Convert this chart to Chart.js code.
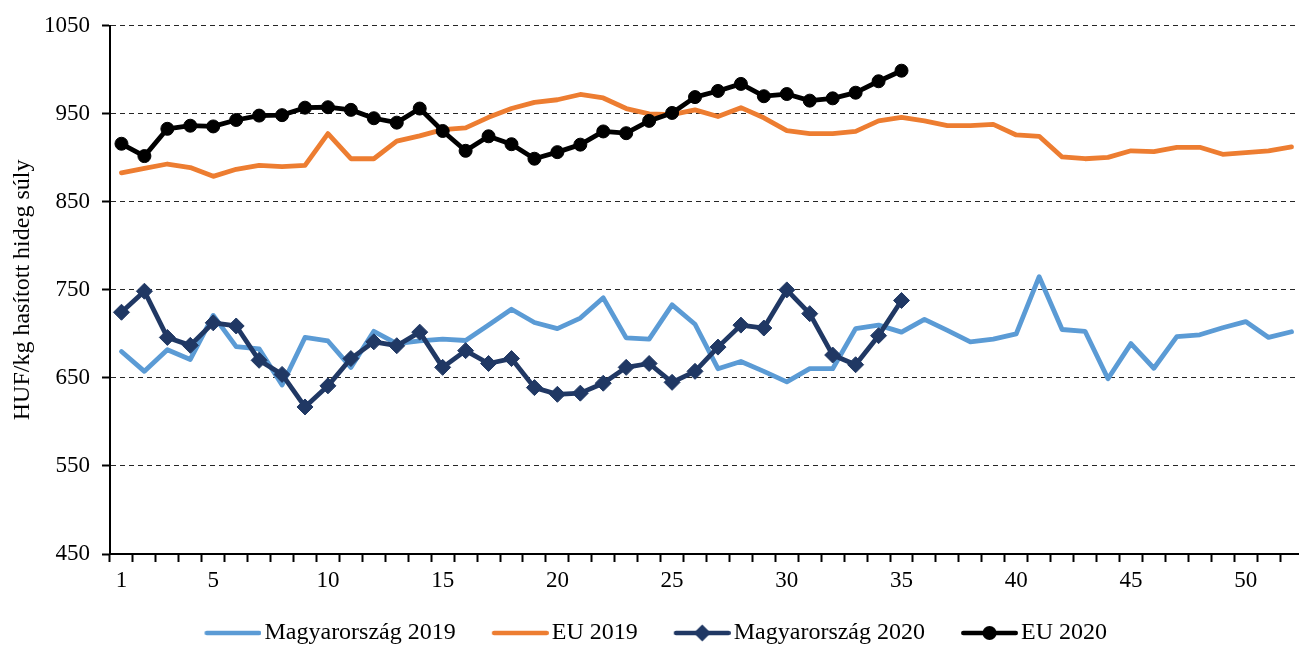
<!DOCTYPE html>
<html><head><meta charset="utf-8">
<script src="https://cdn.jsdelivr.net/npm/chart.js@4.4.1/dist/chart.umd.min.js"></script>
<style>
html,body{margin:0;padding:0;background:#fff;overflow:hidden;width:1299px;height:647px;position:relative}
#wrap{position:absolute;left:-10px;top:0;width:1322px;height:660px}
</style></head>
<body><div id="wrap"><canvas id="c" width="1322" height="660"></canvas></div>
<script>
const weeks = ['1','2','3','4','5','6','7','8','9','10','11','12','13','14','15','16','17','18','19','20','21','22','23','24','25','26','27','28','29','30','31','32','33','34','35','36','37','38','39','40','41','42','43','44','45','46','47','48','49','50','51','52'];
const shownWeeks = ['1','5','10','15','20','25','30','35','40','45','50'];

const hu2019 = [680,657.5,682,671,721,685.5,683,642,696,692,662,703,689,692,694,692.5,710,728,713,706,718,741,695.5,694,733,711,660.5,668.7,657.5,645.5,660.5,660.5,706,710,702,716.5,704,691,694,700,765,705,703,649,689,661,697,699,707,714,696,702.5];
const eu2019 = [883,888,893,889,879,887,891.5,890,891.5,927.5,899,899,919,925,932,934,946,956,963,966,972,968,956,950,949,954.5,947,957,945.5,931,927.5,927.5,930,942,946,942,936.5,936.5,938,926,924.5,901,899,900.6,908,907,912,912,904,906,908,912.5];
const hu2020 = [724.6,748.5,696,687,712.6,709,670,654,617,641,672,691,686.6,702,662,681,666.4,672,639,631.4,632.7,644,662,666.4,645,657.5,685,710,706.7,750,723,676,665,698,738];
const eu2020 = [916,902,933,936.5,935.7,943,948,948.5,957,957.5,954.5,945,940,956,930.5,908,924.5,915.5,899,906.5,915,930,928,942,951,969,976,984,970,972.5,965,967.6,974,987,999];

const seriesNames = ['Magyarország 2019','EU 2019','Magyarország 2020','EU 2020'];
const yTitle = 'HUF/kg hasított hideg súly';

const FONT = "'Times New Roman', 'Liberation Serif', serif";
const C_HU19 = '#5B9BD5', C_EU19 = '#ED7D31', C_HU20 = '#203864', C_EU20 = '#000000';

function legendImg(color, style) {
  const c = document.createElement('canvas');
  c.width = 76; c.height = 24;
  const g = c.getContext('2d');
  g.strokeStyle = color; g.lineWidth = 4.5; g.lineCap = 'round';
  g.beginPath(); g.moveTo(21.25, 12); g.lineTo(73.75, 12); g.stroke();
  g.fillStyle = color;
  const cx = 47.5;
  if (style === 'rectRot') {
    g.beginPath(); g.moveTo(cx - 8.5, 12); g.lineTo(cx, 3.5); g.lineTo(cx + 8.5, 12); g.lineTo(cx, 20.5); g.closePath(); g.fill();
  } else if (style === 'circle') {
    g.beginPath(); g.arc(cx, 12, 7, 0, Math.PI * 2); g.fill();
  }
  return c;
}
const legendImgs = [legendImg(C_HU19), legendImg(C_EU19), legendImg(C_HU20, 'rectRot'), legendImg(C_EU20, 'circle')];

new Chart(document.getElementById('c'), {
  type: 'line',
  data: {
    labels: weeks,
    datasets: [
      {label: seriesNames[0], data: hu2019, borderColor: C_HU19, backgroundColor: C_HU19, borderWidth: 4.8, pointRadius: 0, borderCapStyle: 'round', borderJoinStyle: 'round', order: 4},
      {label: seriesNames[1], data: eu2019, borderColor: C_EU19, backgroundColor: C_EU19, borderWidth: 4.8, pointRadius: 0, borderCapStyle: 'round', borderJoinStyle: 'round', order: 3},
      {label: seriesNames[2], data: hu2020, borderColor: C_HU20, backgroundColor: C_HU20, borderWidth: 4.8, pointStyle: 'rectRot', pointRadius: 8, pointBorderWidth: 1, borderCapStyle: 'round', borderJoinStyle: 'round', order: 2},
      {label: seriesNames[3], data: eu2020, borderColor: C_EU20, backgroundColor: C_EU20, borderWidth: 4.8, pointStyle: 'circle', pointRadius: 6.5, pointBorderWidth: 1, borderCapStyle: 'round', borderJoinStyle: 'round', order: 1}
    ]
  },
  options: {
    responsive: false, animation: false, devicePixelRatio: 1,
    layout: {padding: {left: 6, right: 6.5, top: 21, bottom: 5}},
    plugins: {
      tooltip: {enabled: false},
      legend: {
        position: 'bottom',
        labels: {
          usePointStyle: true, pointStyleWidth: 58, padding: 26, color: '#000',
          font: {family: FONT, size: 24},
          generateLabels: chart => chart.data.datasets.map((ds, i) => ({
            text: ds.label, pointStyle: legendImgs[i], fillStyle: ds.borderColor,
            strokeStyle: ds.borderColor, lineWidth: 0, hidden: false, datasetIndex: i, fontColor: '#000'
          }))
        }
      }
    },
    scales: {
      x: {
        offset: true,
        afterFit: s => { s.height = 41; },
        grid: {display: true, drawOnChartArea: false, offset: true, tickLength: 8, tickWidth: 2, tickColor: '#000', color: '#000'},
        border: {color: '#000', width: 2},
        ticks: {autoSkip: false, maxRotation: 0, minRotation: 0, padding: 5, color: '#000', font: {family: FONT, size: 23},
          callback: (v, i) => shownWeeks.includes(weeks[i]) ? weeks[i] : ''}
      },
      y: {
        min: 450, max: 1050,
        afterFit: s => { s.width = 114; },
        ticks: {stepSize: 100, padding: 12, color: '#000', font: {family: FONT, size: 23}, callback: v => String(v)},
        grid: {color: c => (c.tick && c.tick.value === 450) ? 'rgba(0,0,0,0)' : '#262626', lineWidth: 1, tickLength: 8, tickWidth: 2, tickColor: '#000', tickBorderDash: []},
        border: {color: '#000', width: 2, dash: [5, 4]},
        title: {display: true, text: yTitle, color: '#000', font: {family: FONT, size: 24}, padding: {top: 12, bottom: 0}}
      }
    }
  }
});
</script>
</body></html>
